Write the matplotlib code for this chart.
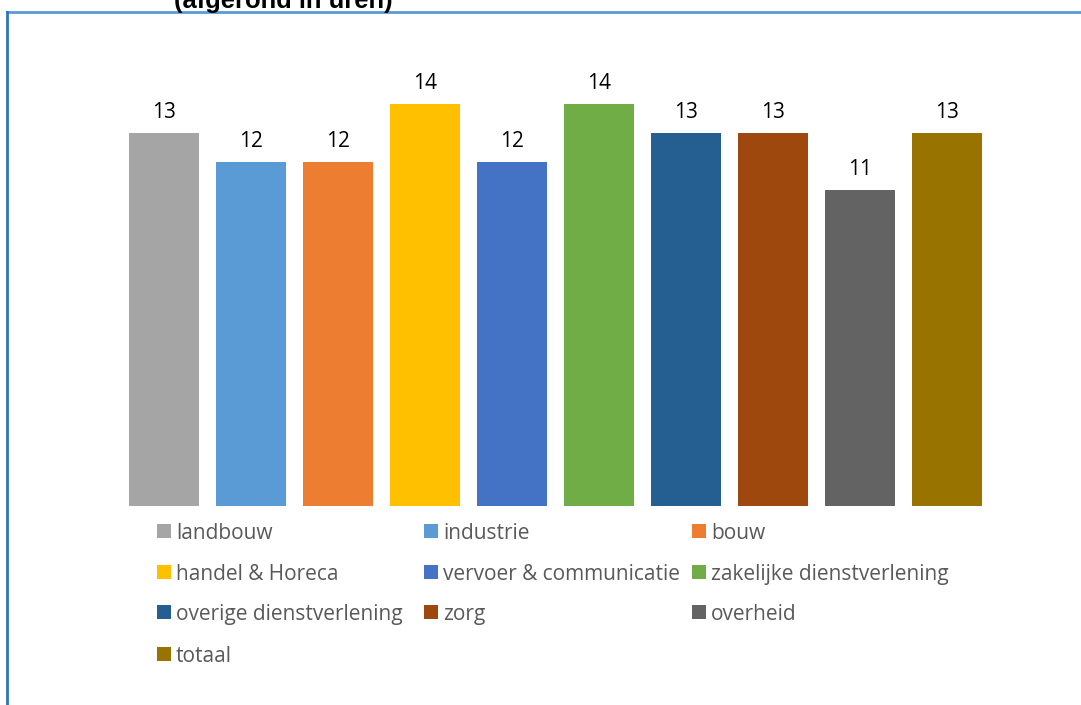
import matplotlib.pyplot as plt
from matplotlib.patches import Rectangle
from matplotlib.lines import Line2D

sectors = ["landbouw", "industrie", "bouw", "handel & Horeca",
           "vervoer & communicatie", "zakelijke dienstverlening",
           "overige dienstverlening", "zorg", "overheid", "totaal"]
hours = [13, 12, 12, 14, 12, 14, 13, 13, 11, 13]
colors = ["#A5A5A5", "#5B9BD5", "#ED7D31", "#FFC000", "#4472C4",
          "#70AD47", "#255E91", "#9E480E", "#636363", "#997300"]

W, H = 1081, 705
fig = plt.figure(figsize=(W / 100, H / 100), dpi=100)
FONT = "Open Sans"

# plot area in pixels: x 120..990, baseline at y=506
ax = fig.add_axes([120.5 / W, (H - 506) / H, 870 / W, (506 - 47) / H])
x = range(len(sectors))
bars = ax.bar(x, hours, width=0.8, color=colors)
ax.set_xlim(-0.5, len(sectors) - 0.5)
ax.set_ylim(0, 16)
ax.axis("off")
for b, v in zip(bars, hours):
    ax.annotate(str(v), (b.get_x() + b.get_width() / 2, v),
                xytext=(0, 10.8), textcoords="offset points",
                ha="center", va="baseline", fontsize=15,
                family=FONT, color="#000000")

# legend laid out in three columns
col_x = [157, 424, 692]
row_y = [531, 572, 612, 654]
for i, name in enumerate(sectors):
    r, c = divmod(i, 3)
    px, py = col_x[c], row_y[r]
    fig.add_artist(Rectangle((px / W, (H - py - 7) / H), 14 / W, 14 / H,
                             transform=fig.transFigure, color=colors[i], lw=0))
    fig.text((px + 19) / W, (H - py) / H, name, ha="left", va="center_baseline",
             fontsize=15, family=FONT, color="#595959")

# chart frame (partly outside the image)
fig.add_artist(Line2D([7 / W, 1], [(H - 12) / H, (H - 12) / H],
                      transform=fig.transFigure, color="#5B9BD5", lw=2))
fig.add_artist(Line2D([7 / W, 7 / W], [0, (H - 12) / H],
                      transform=fig.transFigure, color="#2E75B6", lw=2))

fig.text(283 / W, (H - 8) / H, "(afgerond in uren)", ha="center",
         va="baseline", fontsize=18.4, fontweight="bold",
         family="Liberation Sans", color="#000000")

fig.savefig("out.png", dpi=100)
